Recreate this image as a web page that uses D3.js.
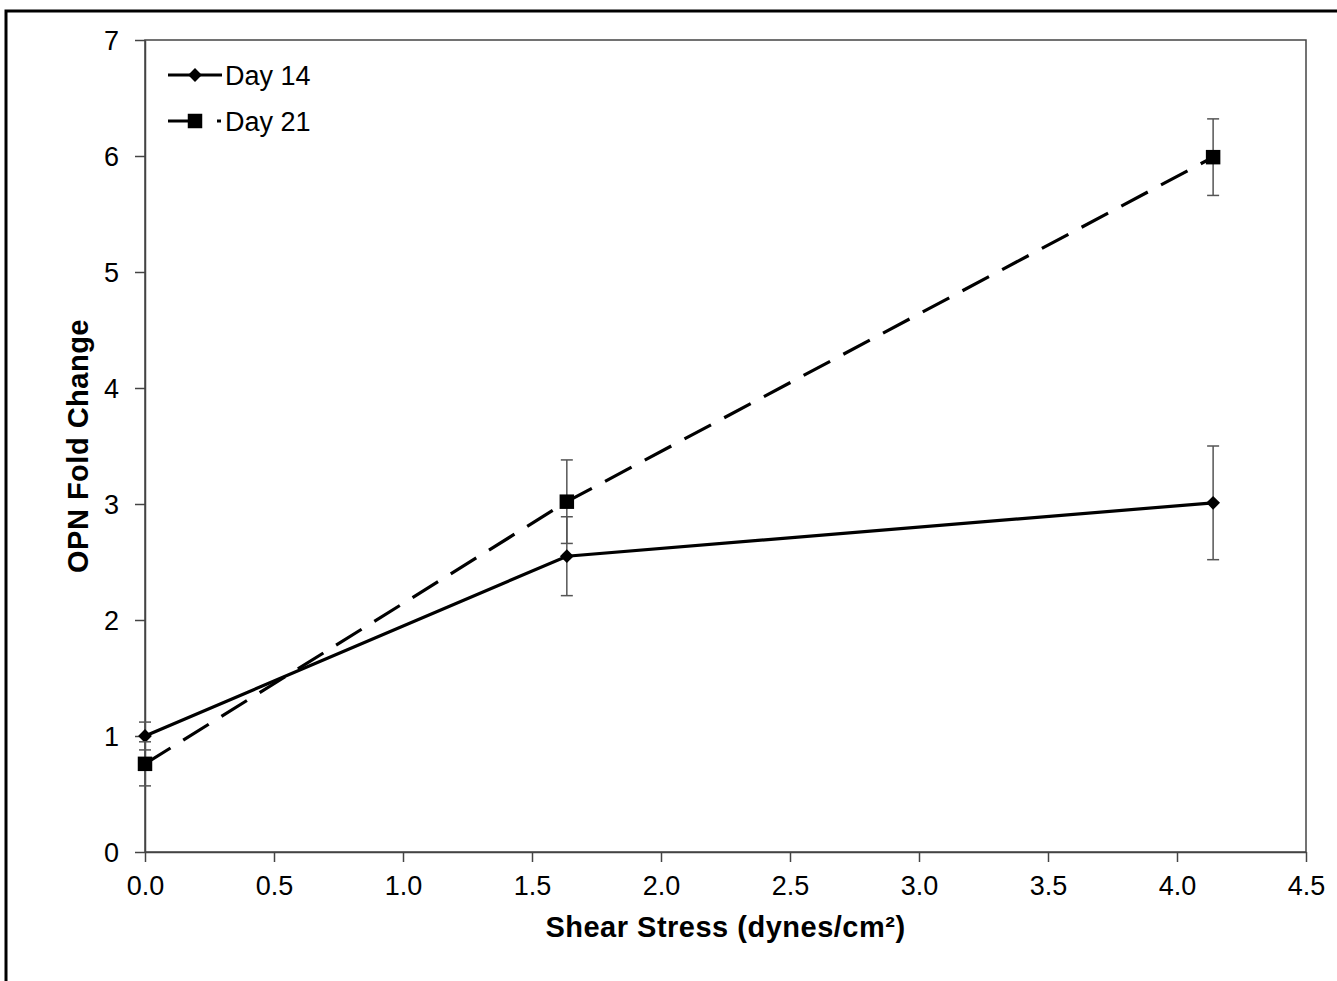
<!DOCTYPE html>
<html>
<head>
<meta charset="utf-8">
<script src="https://cdn.jsdelivr.net/npm/d3@7"></script>
<style>
  body { margin: 0; background: #fff; }
  svg { display: block; font-family: "Liberation Sans", Arial, sans-serif; }
</style>
</head>
<body>
<div class="container"></div>
<script>
// shear stress levels (dynes/cm2)
var stress = [0, 1.635, 4.14];
var day14 = [1.0, 2.55, 3.01];
var day14Err = [0.12, 0.34, 0.49];
var day21 = [0.76, 3.02, 5.99];
var day21Err = [0.19, 0.36, 0.33];
var xTicks = [0, 0.5, 1.0, 1.5, 2.0, 2.5, 3.0, 3.5, 4.0, 4.5];
var yTicks = [0, 1, 2, 3, 4, 5, 6, 7];

const WIDTH = 1337;
const HEIGHT = 981;
const LEFT = 145, RIGHT = 1306, TOP = 40, BOTTOM = 852;

var svg = d3.select('.container').append('svg')
    .attr('width', WIDTH)
    .attr('height', HEIGHT);

// outer frame (right/bottom fall off the page)
svg.append('rect')
    .attr('x', 6).attr('y', 11)
    .attr('width', WIDTH + 20).attr('height', HEIGHT + 20)
    .attr('fill', 'none')
    .attr('stroke', '#000')
    .attr('stroke-width', 3);

var xScale = d3.scaleLinear().domain([0, 4.5]).range([LEFT, RIGHT]);
var yScale = d3.scaleLinear().domain([0, 7]).range([BOTTOM, TOP]);

// plot box
svg.append('rect')
    .attr('x', LEFT).attr('y', TOP)
    .attr('width', RIGHT - LEFT).attr('height', BOTTOM - TOP)
    .attr('fill', 'none')
    .attr('stroke', '#444')
    .attr('stroke-width', 1.5);

var xAxis = d3.axisBottom(xScale)
    .tickValues(xTicks)
    .tickFormat(d3.format('.1f'))
    .tickSize(10)
    .tickSizeOuter(0);

var yAxis = d3.axisLeft(yScale)
    .tickValues(yTicks)
    .tickFormat(d3.format('d'))
    .tickSize(10)
    .tickSizeOuter(0);

var gx = svg.append('g')
    .attr('transform', 'translate(0,' + BOTTOM + ')')
    .call(xAxis);
var gy = svg.append('g')
    .attr('transform', 'translate(' + LEFT + ',0)')
    .call(yAxis);

[gx, gy].forEach(function (g) {
    g.attr('font-size', null).attr('font-family', null);
    g.selectAll('path, line').attr('stroke', '#444').attr('stroke-width', 1.5);
    g.selectAll('text')
        .attr('fill', '#000')
        .style('font-size', '27px');
});
gx.selectAll('text').attr('y', 24).attr('dy', '0.71em');
gy.selectAll('text').attr('x', -26).attr('dy', '0.35em');

// axis titles
svg.append('text')
    .attr('x', (LEFT + RIGHT) / 2)
    .attr('y', 937)
    .attr('text-anchor', 'middle')
    .style('font-size', '29px')
    .style('font-weight', 'bold')
    .style('letter-spacing', '0.5px')
    .text('Shear Stress (dynes/cm²)');

svg.append('text')
    .attr('transform', 'translate(88,' + ((TOP + BOTTOM) / 2) + ') rotate(-90)')
    .attr('text-anchor', 'middle')
    .style('font-size', '29px')
    .style('font-weight', 'bold')
    .style('letter-spacing', '0.5px')
    .text('OPN Fold Change');

var line = d3.line()
    .x(function (d) { return xScale(d[0]); })
    .y(function (d) { return yScale(d[1]); });

var series = [
    { name: 'Day 14', values: day14, err: day14Err, dash: null, shape: d3.symbolSquare, size: 95, rot: 45 },
    { name: 'Day 21', values: day21, err: day21Err, dash: '30,15', shape: d3.symbolSquare, size: 210, rot: 0 }
];

series.forEach(function (s) {
    var pts = stress.map(function (x, i) { return [x, s.values[i], s.err[i]]; });
    var g = svg.append('g');

    // error bars
    var eb = g.selectAll('g.err').data(pts).enter().append('g')
        .attr('stroke', '#555').attr('stroke-width', 1.5);
    eb.append('line')
        .attr('x1', function (d) { return xScale(d[0]); })
        .attr('x2', function (d) { return xScale(d[0]); })
        .attr('y1', function (d) { return yScale(d[1] - d[2]); })
        .attr('y2', function (d) { return yScale(d[1] + d[2]); });
    [-1, 1].forEach(function (sgn) {
        eb.append('line')
            .attr('x1', function (d) { return xScale(d[0]) - 6; })
            .attr('x2', function (d) { return xScale(d[0]) + 6; })
            .attr('y1', function (d) { return yScale(d[1] + sgn * d[2]); })
            .attr('y2', function (d) { return yScale(d[1] + sgn * d[2]); });
    });

    g.append('path')
        .datum(pts)
        .attr('d', line)
        .attr('fill', 'none')
        .attr('stroke', '#000')
        .attr('stroke-width', 3.2)
        .attr('stroke-dasharray', s.dash);

    g.selectAll('path.mk').data(pts).enter().append('path')
        .attr('class', 'mk')
        .attr('transform', function (d) {
            return 'translate(' + xScale(d[0]) + ',' + yScale(d[1]) + ') rotate(' + s.rot + ')';
        })
        .attr('d', d3.symbol().type(s.shape).size(s.size))
        .attr('fill', '#000');
});

// legend
var legend = svg.append('g');
var legY = [75, 121];
series.forEach(function (s, i) {
    legend.append('line')
        .attr('x1', 168).attr('x2', 222)
        .attr('y1', legY[i]).attr('y2', legY[i])
        .attr('stroke', '#000').attr('stroke-width', 3.2)
        .attr('stroke-dasharray', s.dash ? '24,25,4' : null);
    legend.append('path')
        .attr('transform', 'translate(195,' + legY[i] + ') rotate(' + s.rot + ')')
        .attr('d', d3.symbol().type(s.shape).size(s.size))
        .attr('fill', '#000');
    legend.append('text')
        .attr('x', 225).attr('y', legY[i])
        .attr('dy', '0.36em')
        .style('font-size', '27px')
        .text(s.name);
});
</script>
</body>
</html>
